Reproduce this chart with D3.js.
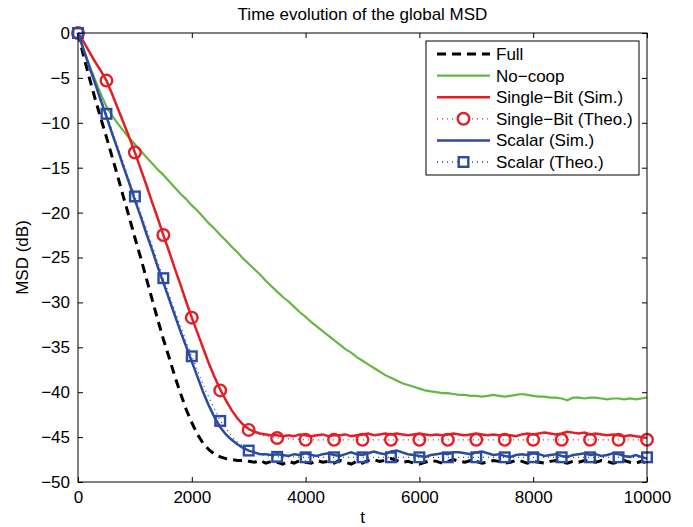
<!DOCTYPE html>
<html><head><meta charset="utf-8">
<script src="https://cdn.jsdelivr.net/npm/d3@7"></script>
<style>body{margin:0;background:#fff}text{font-family:"Liberation Sans",Arial,sans-serif}</style>
</head><body><svg id="c" width="693" height="527"></svg>
<script>
const xTicks=[0,2000,4000,6000,8000,10000];
const yTicks=[0,-5,-10,-15,-20,-25,-30,-35,-40,-45,-50];
const seriesNames=["Full","No\u2212coop","Single\u2212Bit (Sim.)","Single\u2212Bit (Theo.)","Scalar (Sim.)","Scalar (Theo.)"];
// simulated curves sampled every 100 iterations
const tSim=d3.range(0,10001,100);
const full=[0,-2.6,-5.0,-7.3,-9.5,-11.6,-13.8,-16.0,-18.3,-20.5,-22.8,-25.0,-27.3,-29.6,-31.9,-34.1,-36.1,-38.2,-40.1,-41.9,-43.4,-44.7,-45.7,-46.4,-46.9,-47.2,-47.4,-47.5,-47.6,-47.6,-47.7,
-47.8,-47.6,-47.9,-47.7,-47.8,-48.0,-47.7,-47.9,-47.6,-47.8,-47.9,-47.6,-47.8,-47.7,-47.9,-47.6,-47.8,-48.0,-47.7,-47.9,-47.6,-47.5,-47.7,-47.6,-47.4,-47.6,-47.8,-47.7,-47.9,-48.0,
-47.8,-47.6,-47.7,-47.9,-47.7,-47.5,-47.7,-47.8,-47.6,-47.7,-47.9,-47.8,-47.6,-47.7,-47.9,-47.8,-47.6,-47.7,-47.9,-47.7,-47.8,-47.9,-47.7,-47.6,-47.8,-47.9,-47.7,-47.8,-47.6,-47.7,
-47.8,-47.6,-47.7,-47.9,-47.8,-47.6,-47.8,-47.9,-47.7,-47.9];
const noCoop=[0,-1.8,-3.6,-5.2,-6.8,-8.2,-9.2,-10.1,-10.9,-11.7,-12.4,-13.1,-13.8,-14.5,-15.2,-15.8,-16.5,-17.2,-17.9,-18.5,-19.2,-19.8,-20.5,-21.2,-21.8,-22.5,-23.1,-23.8,-24.4,-25.1,-25.7,
-26.3,-26.9,-27.6,-28.2,-28.8,-29.4,-29.9,-30.5,-31.1,-31.6,-32.2,-32.7,-33.2,-33.7,-34.2,-34.7,-35.2,-35.6,-36.1,-36.5,-36.9,-37.3,-37.7,-38.1,-38.4,-38.7,-39.0,-39.2,-39.4,-39.6,
-39.8,-39.9,-40.0,-40.1,-40.1,-40.2,-40.3,-40.3,-40.4,-40.4,-40.5,-40.4,-40.3,-40.4,-40.5,-40.4,-40.3,-40.2,-40.3,-40.4,-40.5,-40.5,-40.6,-40.6,-40.7,-40.9,-40.6,-40.6,-40.7,-40.6,
-40.6,-40.7,-40.8,-40.7,-40.7,-40.8,-40.7,-40.8,-40.7,-40.6];
const singleBitSim=[0,-1.0,-2.1,-3.2,-4.2,-5.3,-6.8,-8.4,-10.0,-11.6,-13.3,-15.1,-16.9,-18.8,-20.6,-22.5,-24.3,-26.2,-28.0,-29.9,-31.7,-33.4,-35.1,-36.8,-38.3,-39.7,-40.9,-42.0,-42.9,-43.6,-44.1,
-44.4,-44.6,-44.7,-44.8,-44.8,-44.9,-44.8,-44.9,-44.7,-44.8,-44.9,-44.8,-44.7,-44.9,-44.8,-44.8,-44.7,-44.9,-44.8,-44.7,-44.6,-44.8,-44.7,-44.6,-44.7,-44.6,-44.7,-44.8,-44.7,-44.6,
-44.7,-44.8,-44.7,-44.8,-44.7,-44.6,-44.7,-44.8,-44.7,-44.6,-44.7,-44.8,-44.7,-44.8,-44.7,-44.8,-44.9,-44.7,-44.6,-44.7,-44.6,-44.5,-44.6,-44.7,-44.6,-44.4,-44.5,-44.6,-44.5,-44.7,
-44.6,-44.7,-44.8,-44.7,-44.8,-44.9,-44.8,-44.9,-45.0,-45.1];
const scalarSim=[0,-1.9,-3.8,-5.6,-7.5,-9.3,-11.2,-13.0,-14.9,-16.7,-18.6,-20.4,-22.3,-24.1,-26.0,-27.8,-29.6,-31.4,-33.2,-34.9,-36.6,-38.3,-40.0,-41.5,-42.8,-43.9,-44.7,-45.3,-45.8,-46.2,-46.5,
-46.7,-46.9,-46.9,-47.0,-46.9,-47.0,-47.1,-46.9,-47.0,-46.8,-47.0,-47.1,-46.9,-46.8,-47.0,-47.1,-46.9,-46.7,-46.9,-47.0,-46.8,-46.6,-46.8,-46.9,-46.6,-46.5,-46.7,-46.9,-47.0,-47.1,
-47.2,-47.0,-46.9,-46.8,-46.9,-46.7,-46.7,-46.8,-46.9,-46.7,-46.6,-46.8,-47.0,-46.9,-47.1,-47.2,-47.0,-46.9,-47.0,-46.8,-46.9,-47.1,-47.0,-46.9,-47.1,-47.2,-47.0,-46.9,-46.8,-47.0,
-46.9,-47.1,-47.0,-46.8,-46.9,-47.1,-47.2,-47.0,-47.2,-47.4];
// theoretical curves sampled every 250 iterations
const tTheo=[0,250,500,750,1000,1250,1500,1750,2000,2250,2500,2750,3000,3250,3500,3750,4000,4500,5000,5500,6000,6500,7000,7500,8000,8500,9000,9500,10000];
const singleBitTheo=[0,-2.6,-5.3,-9.2,-13.3,-17.9,-22.5,-27.1,-31.7,-36.0,-39.8,-42.5,-44.2,-44.8,-45.1,-45.2,-45.3,-45.3,-45.3,-45.3,-45.3,-45.3,-45.3,-45.3,-45.3,-45.3,-45.3,-45.3,-45.3];
const scalarTheo=[0,-4.5,-9.0,-13.6,-18.2,-22.7,-27.3,-31.8,-36.0,-39.9,-43.2,-45.3,-46.5,-47.0,-47.2,-47.2,-47.25,-47.25,-47.25,-47.25,-47.25,-47.25,-47.25,-47.25,-47.25,-47.25,-47.25,-47.25,-47.25];
const markerT=[0,500,1000,1500,2000,2500,3000,3500,4000,4500,5000,5500,6000,6500,7000,7500,8000,8500,9000,9500,10000];

const svg=d3.select("#c");
const L=78,R=647,T=33,B=482;
const x=d3.scaleLinear().domain([0,10000]).range([L,R]);
const y=d3.scaleLinear().domain([-50,0]).range([B,T]);
const RED="#e41e26",BLUE="#2a4aa6",GREEN="#63b843";
const FS=17;

svg.append("rect").attr("x",L).attr("y",T).attr("width",R-L).attr("height",B-T).attr("fill","#fff");

function styleAxis(g){g.select(".domain").remove();g.selectAll("line").attr("stroke","#000");g.selectAll("text").attr("font-size",FS).attr("fill","#000").style("font-family",'"Liberation Sans",Arial,sans-serif');}
svg.append("g").attr("transform",`translate(0,${B})`).call(d3.axisBottom(x).tickValues(xTicks).tickSize(-5).tickPadding(9).tickFormat(d3.format("d"))).call(styleAxis);
svg.append("g").attr("transform",`translate(0,${T})`).call(d3.axisTop(x).tickValues(xTicks).tickSize(-5).tickFormat("")).call(styleAxis);
svg.append("g").attr("transform",`translate(${L},0)`).call(d3.axisLeft(y).tickValues(yTicks).tickSize(-5).tickPadding(8).tickFormat(d3.format("d"))).call(styleAxis);
svg.append("g").attr("transform",`translate(${R},0)`).call(d3.axisRight(y).tickValues(yTicks).tickSize(-5).tickFormat("")).call(styleAxis);

const line=d3.line().x(d=>x(d[0])).y(d=>y(d[1]));
const zipS=v=>tSim.map((t,i)=>[t,v[i]]);
const zipT=v=>tTheo.map((t,i)=>[t,v[i]]);
const theoAt=(v,t)=>v[tTheo.indexOf(t)];

svg.append("path").datum(zipS(full)).attr("d",line).attr("fill","none").attr("stroke","#000").attr("stroke-width",3).attr("stroke-dasharray","9,6");
svg.append("path").datum(zipS(noCoop)).attr("d",line).attr("fill","none").attr("stroke",GREEN).attr("stroke-width",2.2);
svg.append("path").datum(zipS(singleBitSim)).attr("d",line).attr("fill","none").attr("stroke",RED).attr("stroke-width",2.5);
svg.append("path").datum(zipT(singleBitTheo)).attr("d",line).attr("fill","none").attr("stroke",RED).attr("stroke-width",1.3).attr("stroke-dasharray","1,4");
svg.append("g").selectAll("circle").data(markerT).join("circle").attr("cx",d=>x(d)).attr("cy",d=>y(theoAt(singleBitTheo,d))).attr("r",5.8).attr("fill","none").attr("stroke",RED).attr("stroke-width",2.4);
svg.append("path").datum(zipS(scalarSim)).attr("d",line).attr("fill","none").attr("stroke",BLUE).attr("stroke-width",2.5);
svg.append("path").datum(zipT(scalarTheo)).attr("d",line).attr("fill","none").attr("stroke",BLUE).attr("stroke-width",1.3).attr("stroke-dasharray","1,4");
svg.append("g").selectAll("rect").data(markerT).join("rect").attr("x",d=>x(d)-4.8).attr("y",d=>y(theoAt(scalarTheo,d))-4.8).attr("width",9.6).attr("height",9.6).attr("fill","none").attr("stroke",BLUE).attr("stroke-width",2.4);

svg.append("rect").attr("x",L).attr("y",T).attr("width",R-L).attr("height",B-T).attr("fill","none").attr("stroke","#000").attr("stroke-width",1);

svg.append("text").attr("x",(L+R)/2).attr("y",20).attr("text-anchor","middle").attr("font-size",FS).text("Time evolution of the global MSD");
svg.append("text").attr("x",(L+R)/2).attr("y",523).attr("text-anchor","middle").attr("font-size",FS).text("t");
svg.append("text").attr("transform",`translate(28,${(T+B)/2}) rotate(-90)`).attr("text-anchor","middle").attr("font-size",FS).text("MSD (dB)");

// legend
const lg=svg.append("g");
lg.append("rect").attr("x",426).attr("y",41).attr("width",213).attr("height",134).attr("fill","#fff").attr("stroke","#000").attr("stroke-width",1);
const styles=[
 {c:"#000",w:3,da:"9,6",m:null},
 {c:GREEN,w:2.2,da:null,m:null},
 {c:RED,w:2.5,da:null,m:null},
 {c:RED,w:1.3,da:"1,4",m:"circle"},
 {c:BLUE,w:2.5,da:null,m:null},
 {c:BLUE,w:1.3,da:"1,4",m:"square"}];
seriesNames.forEach((n,i)=>{
 const yy=54+i*21.6, s=styles[i];
 lg.append("line").attr("x1",437).attr("x2",490).attr("y1",yy).attr("y2",yy).attr("stroke",s.c).attr("stroke-width",s.w).attr("stroke-dasharray",s.da);
 if(s.m==="circle") lg.append("circle").attr("cx",463.5).attr("cy",yy).attr("r",5.8).attr("fill","#fff").attr("stroke",s.c).attr("stroke-width",2.4);
 if(s.m==="square") lg.append("rect").attr("x",458.7).attr("y",yy-4.8).attr("width",9.6).attr("height",9.6).attr("fill","#fff").attr("stroke",s.c).attr("stroke-width",2.4);
 lg.append("text").attr("x",496).attr("y",yy).attr("dy","0.35em").attr("font-size",FS).text(n);
});
</script></body></html>
